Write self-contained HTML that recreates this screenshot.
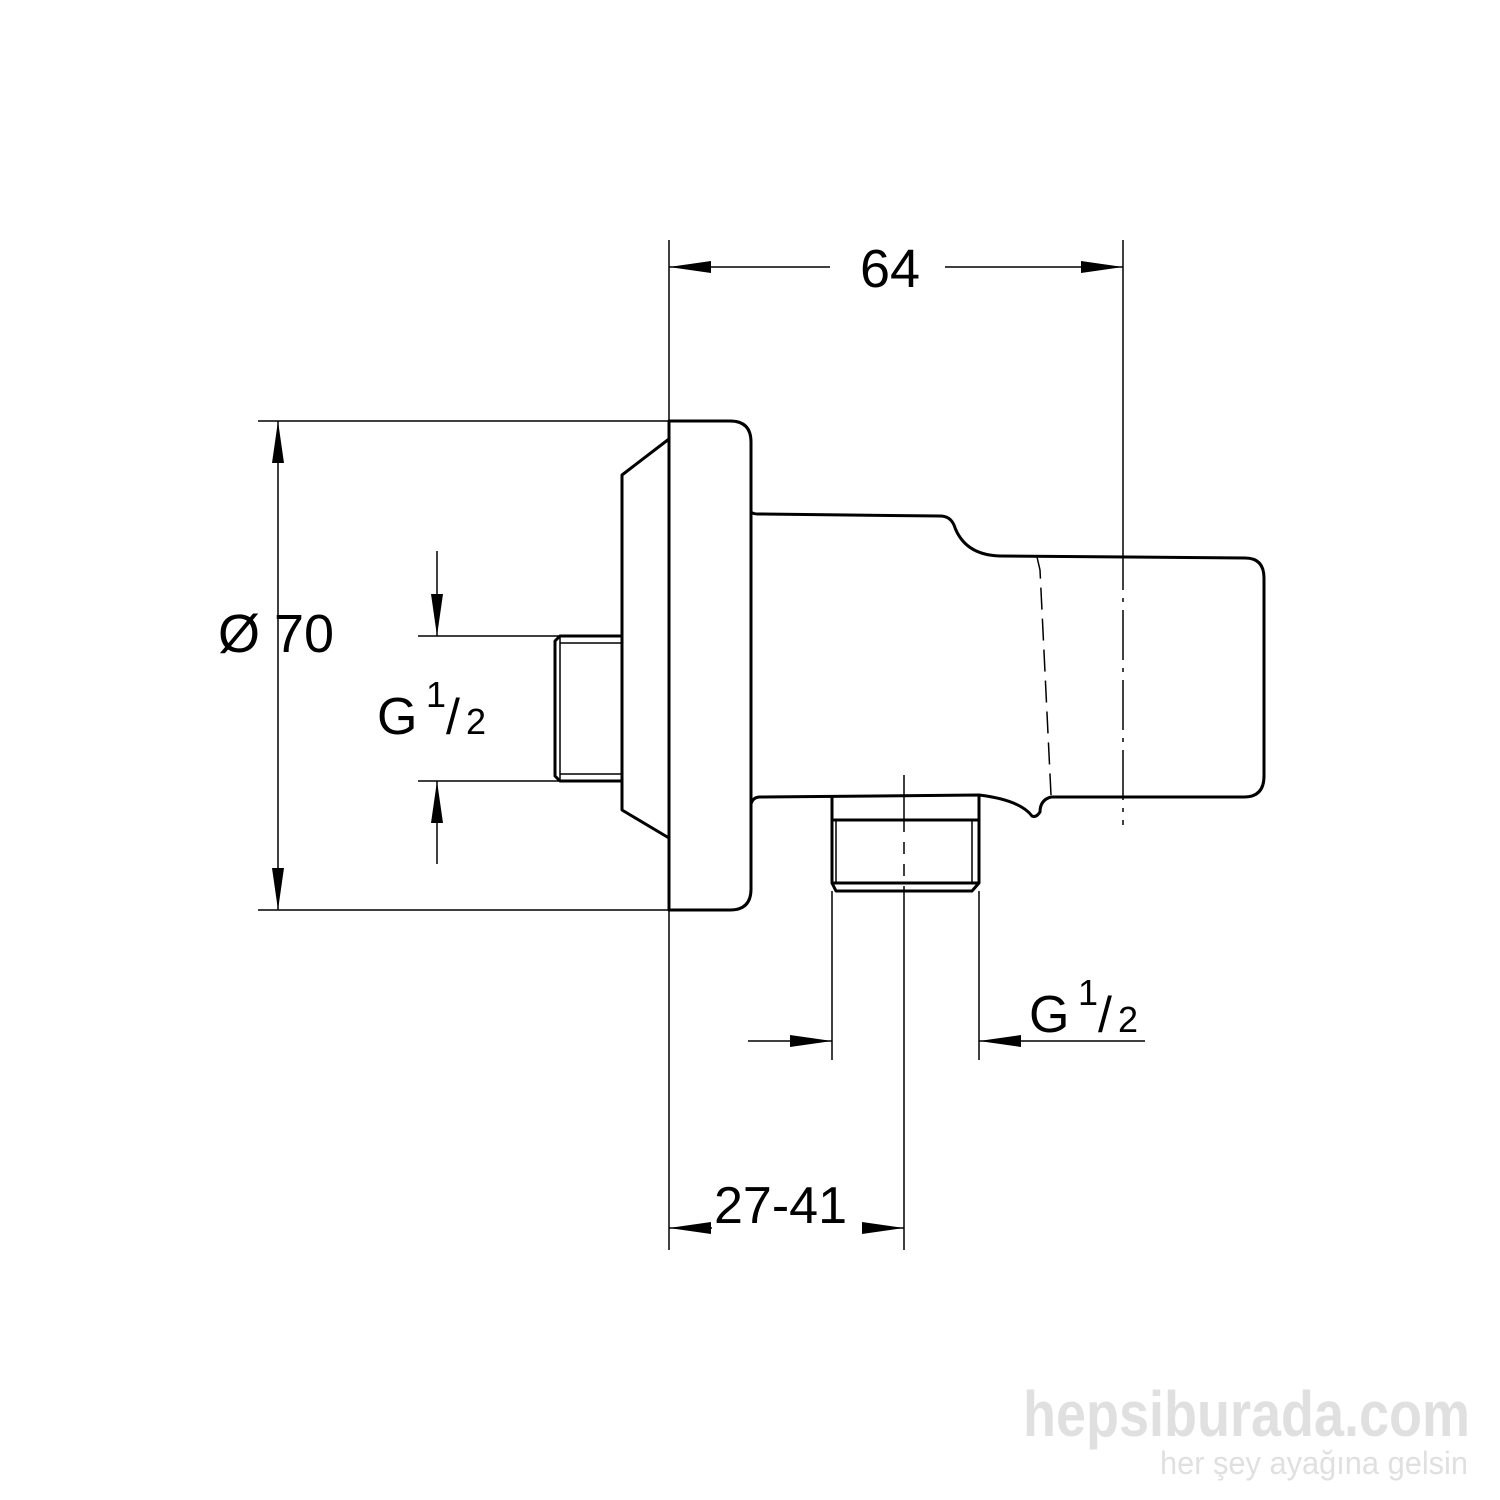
<!DOCTYPE html>
<html><head><style>
html,body{margin:0;padding:0;background:#fff;}
svg{display:block}
text{font-family:"Liberation Sans",Arial,sans-serif;fill:#000}
</style></head><body>
<svg width="1500" height="1500" viewBox="0 0 1500 1500" xmlns="http://www.w3.org/2000/svg">
<g stroke="#000" fill="none" stroke-width="1.5">
<line x1="669" y1="240" x2="669" y2="1250"/>
<line x1="1123" y1="240" x2="1123" y2="540"/>
<line x1="1123" y1="540" x2="1123" y2="825" stroke-dasharray="50,8,4,8"/>
<line x1="258" y1="421" x2="669" y2="421"/>
<line x1="258" y1="910" x2="669" y2="910"/>
<line x1="278" y1="421" x2="278" y2="910"/>
<line x1="418" y1="636" x2="560" y2="636"/>
<line x1="418" y1="781" x2="560" y2="781"/>
<line x1="437" y1="551" x2="437" y2="636"/>
<line x1="437" y1="781" x2="437" y2="864"/>
<line x1="832" y1="891" x2="832" y2="1060"/>
<line x1="979" y1="891" x2="979" y2="1060"/>
<line x1="748" y1="1041" x2="832" y2="1041"/>
<line x1="979" y1="1041" x2="1145" y2="1041"/>
<line x1="904" y1="775" x2="904" y2="820"/>
<line x1="904" y1="820" x2="904" y2="891" stroke-dasharray="12,10"/>
<line x1="904" y1="891" x2="904" y2="1250"/>
<line x1="669" y1="1228" x2="712" y2="1228"/>
<line x1="862" y1="1228" x2="904" y2="1228"/>
<line x1="669" y1="267" x2="830" y2="267"/>
<line x1="945" y1="267" x2="1123" y2="267"/>
</g>
<g fill="#000">
<polygon points="669,267 711,261 711,273"/>
<polygon points="1123,267 1081,261 1081,273"/>
<polygon points="278,421 272,463 284,463"/>
<polygon points="278,910 272,868 284,868"/>
<polygon points="437,636 431,594 443,594"/>
<polygon points="437,781 431,823 443,823"/>
<polygon points="832,1041 790,1035 790,1047"/>
<polygon points="979,1041 1021,1035 1021,1047"/>
<polygon points="669,1228 711,1222 711,1234"/>
<polygon points="904,1228 862,1222 862,1234"/>
</g>
<g stroke="#000" fill="none" stroke-width="3" stroke-linejoin="round">
<path d="M669,421 H730 Q751,421 751,442 V889 Q751,910 730,910 H669 Z"/>
<path d="M669,439 L622,475 V810 L669,838"/>
<path d="M751,512 Q753,514 758,514 L940,516 Q950,516 954,525 Q964,555 1000,556 L1245,558 Q1264,558 1264,578 V776 Q1264,797 1244,797 L1051,797 Q1040,800 1040,812 Q1036,818 1032,816 Q1020,800 979,795 L760,797 Q753,797 751,804"/>
<path d="M832,795 V883 L836,891 H972 L979,883 V795"/>
<line x1="832" y1="820" x2="979" y2="820"/>
<line x1="832" y1="883" x2="979" y2="883"/>
<path d="M622,636 H560 L555,641 V776 L560,781 H622"/>
</g>
<g stroke="#000" fill="none" stroke-width="1.5">
<line x1="836" y1="820" x2="836" y2="883"/>
<line x1="972" y1="820" x2="972" y2="883"/>
<line x1="560" y1="636" x2="560" y2="781"/>
<line x1="560" y1="643" x2="622" y2="643"/>
<line x1="560" y1="774" x2="622" y2="774"/>
<path d="M1037,557 L1040,570 L1051,795" stroke-dasharray="22,9"/>
</g>
<text x="860" y="287" font-size="54">64</text>
<text x="218" y="652" font-size="54">Ø</text>
<text x="274" y="652" font-size="54">70</text>
<text x="377" y="734" font-size="52">G</text>
<text x="426" y="707" font-size="36">1</text>
<text x="446" y="734" font-size="50">/</text>
<text x="466" y="734" font-size="36">2</text>
<text x="1029" y="1032" font-size="52">G</text>
<text x="1078" y="1005" font-size="36">1</text>
<text x="1098" y="1032" font-size="50">/</text>
<text x="1118" y="1032" font-size="36">2</text>
<text x="714" y="1223" font-size="52">27-41</text>
<text x="1023" y="1436" font-size="64" font-weight="bold" style="fill:#e0e0e0" textLength="447" lengthAdjust="spacingAndGlyphs">hepsiburada.com</text>
<text x="1160" y="1474" font-size="32" style="fill:#e0e0e0" textLength="308" lengthAdjust="spacingAndGlyphs">her şey ayağına gelsin</text>
</svg>
</body></html>
